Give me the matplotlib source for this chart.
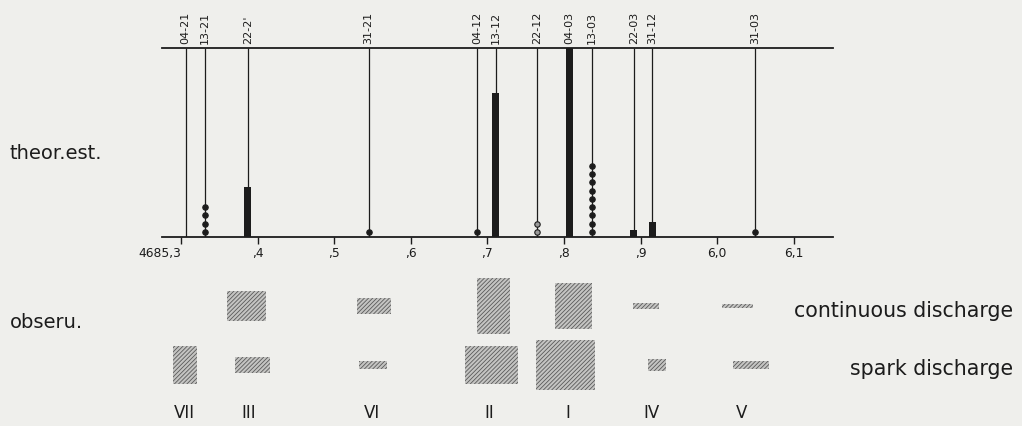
import matplotlib
matplotlib.use('Agg')

from matplotlib import pyplot as plt
from matplotlib import rc
from matplotlib.patches import Rectangle

import numpy as np

# theoretical components: label, wavelength, how drawn, value
# kind 'bar' -> value is relative intensity, 'dot'/'open' -> number of dots
line_labels = ['04-21', '13-21', "22-2'", '31-21', '04-12', '13-12',
               '22-12', '04-03', '13-03', '22-03', '31-12', '31-03']
line_wl = [4685.306, 4685.331, 4685.387, 4685.545, 4685.687, 4685.711,
           4685.765, 4685.807, 4685.836, 4685.891, 4685.915, 4686.049]
line_kind = ['none', 'dot', 'bar', 'dot', 'dot', 'bar',
             'open', 'bar', 'dot', 'bar', 'bar', 'dot']
line_value = [0, 4, 0.265, 1, 1, 0.76, 2, 1.0, 9, 0.037, 0.08, 1]

xticks = [4685.3, 4685.4, 4685.5, 4685.6, 4685.7, 4685.8, 4685.9, 4686.0, 4686.1]
xticklabels = ['4685,3', ',4', ',5', ',6', ',7', ',8', ',9', '6,0', '6,1']

# observed features (centre wavelength, width in A, height in row units)
obs_names = ['VII', 'III', 'VI', 'II', 'I', 'IV', 'V']
obs_label_wl = [4685.305, 4685.389, 4685.549, 4685.703, 4685.805, 4685.9145, 4686.032]
cont_wl = [None, 4685.3855, 4685.552, 4685.7077, 4685.8122, 4685.9075, 4686.0265]
cont_w = [0, 0.0501, 0.045, 0.0435, 0.048, 0.034, 0.041]
cont_h = [0, 2.96, 1.53, 5.57, 4.56, 0.56, 0.44]
spark_wl = [4685.3052, 4685.3933, 4685.5507, 4685.7051, 4685.802, 4685.9214, 4686.0445]
spark_w = [0.0305, 0.0457, 0.0358, 0.0688, 0.0774, 0.0231, 0.047]
spark_h = [3.73, 1.56, 0.74, 3.87, 5.0, 1.16, 0.83]

ink = '#1c1c1c'
paper = '#efefec'
hatch_ink = '#5a5a5a'

rc('font', family='DejaVu Sans')
rc('hatch', linewidth=0.6, color=hatch_ink)

W, H = 1022, 426
fig = plt.figure(figsize=(W / 100., H / 100.), dpi=100, facecolor=paper)

xlim = (4685.2752, 4686.1512)

# --- theoretical estimate ---
ax = fig.add_axes([162. / W, 1 - 237. / H, 671. / W, 189. / H])
ax.set_facecolor(paper)
ax.set_xlim(*xlim)
ax.set_ylim(0, 1)
for s in ('left', 'right'):
    ax.spines[s].set_visible(False)
for s in ('top', 'bottom'):
    ax.spines[s].set_linewidth(1.3)
    ax.spines[s].set_color(ink)
ax.set_yticks([])
ax.set_xticks(xticks)
ax.set_xticklabels(xticklabels, fontsize=8.8, color=ink)
ax.tick_params(axis='x', direction='out', length=5, width=1, pad=2, colors=ink)
ax.get_xticklabels()[0].set_horizontalalignment('right')

ax.vlines(line_wl, 0, 1, color=ink, lw=0.9)

dot_step = 8.3 / 189.
dot_off = 5. / 189.
for lbl, wl, kind, val in zip(line_labels, line_wl, line_kind, line_value):
    if kind == 'bar':
        ax.bar(wl, val, width=0.0092, color=ink, linewidth=0)
    elif kind in ('dot', 'open'):
        ys = dot_off + dot_step * np.arange(int(val))
        fc = ink if kind == 'dot' else '#9a9a9a'
        ax.plot([wl] * len(ys), ys, 'o', ms=3.9, mfc=fc, mec=ink, mew=0.8,
                clip_on=False)
    ax.text(wl, 1.02, lbl, rotation=90, ha='center', va='bottom',
            fontsize=8, color=ink)

# --- observed ---
ax2 = fig.add_axes([162. / W, 1 - 400. / H, 671. / W, 130. / H])
ax2.set_xlim(*xlim)
ax2.set_ylim(0, 13)
ax2.axis('off')


def hatched(x0, y0, w, h):
    return Rectangle((x0, y0), w, h, facecolor='#c4c4c2', edgecolor=hatch_ink,
                     hatch='////////', lw=0)


cont_row = 9.4
spark_row = 3.5
for wl, w, h in zip(cont_wl, cont_w, cont_h):
    if wl is None:
        continue
    ax2.add_patch(hatched(wl - w / 2, cont_row - h / 2, w, h))
for wl, w, h in zip(spark_wl, spark_w, spark_h):
    ax2.add_patch(hatched(wl - w / 2, spark_row - h / 2, w, h))
for name, wl in zip(obs_names, obs_label_wl):
    ax2.text(wl, -1.8, name, ha='center', va='baseline', fontsize=12,
             color=ink)

# side texts
fig.text(10. / W, 1 - 159. / H, 'theor.est.', fontsize=14, color=ink,
         va='baseline')
fig.text(10. / W, 1 - 328. / H, 'obseru.', fontsize=14, color=ink,
         va='baseline')
fig.text(1013. / W, 1 - 317. / H, 'continuous discharge', fontsize=14.8,
         color=ink, ha='right', va='baseline')
fig.text(1013. / W, 1 - 375. / H, 'spark discharge', fontsize=14.8,
         color=ink, ha='right', va='baseline')

plt.savefig('out.png', dpi=100, facecolor=paper)
plt.close()
